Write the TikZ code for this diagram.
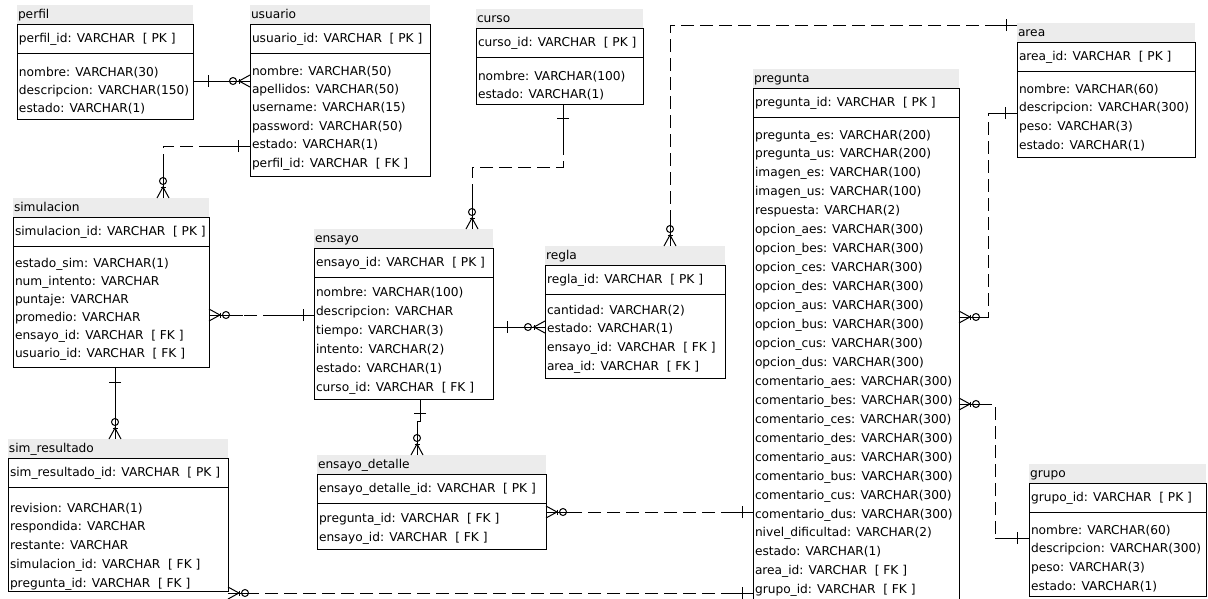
\documentclass[tikz,border=0pt]{standalone}
\usepackage{fontspec}
\setmainfont{DejaVu Sans}
\usetikzlibrary{calc}

\newcommand\erfont{\fontsize{12.2pt}{14pt}\selectfont}
\newcommand\erpk{\ \ [ PK ]}
\newcommand\erfk{\ \ [ FK ]}
\definecolor{bandgray}{RGB}{236,236,236}

% geometry of one table: left/right edge, box top/bottom, first row offset, row pitch
\pgfkeys{/er/.cd,
  xl/.store in=\erxl, xr/.store in=\erxr,
  top/.store in=\ertop, bot/.store in=\erbot,
  first/.store in=\erfirst, pitch/.store in=\erpitch}

\tikzset{
  erband/.style={fill=bandgray, inner sep=0pt, outer sep=0pt, anchor=south west},
  erbox/.style={draw=black, line width=1pt, inner sep=0pt, outer sep=0pt, anchor=north west},
  ertext/.style={anchor=base west, inner sep=0pt, outer sep=0pt, font=\erfont, text=black},
  erlink/.style={line width=1pt, draw=black},
  erdash/.style={erlink, dash pattern=on 13pt off 6pt},
  % "exactly one" bar, #1 = distance from the table edge
  erone/.pic={\draw[erlink] (#1,-6) -- (#1,6);},
  % "zero or many": crow's foot plus circle
  ermany/.pic={
    \draw[erlink] (0,-6) -- (11,0) -- (0,6);
    \draw[erlink] (11,-2.5) -- (11,2.5);
    \draw[erlink] (17,0) circle (3.5);
  },
}

% #1 name, #2 geometry keys, #3 title, #4 key row, #5 attribute rows
\newcommand\ertable[5]{%
  \pgfkeys{/er/.cd, first=46.5, pitch=18.8, #2}%
  \node[erband, minimum width={(\erxr-\erxl)*1pt}, minimum height=19pt] (#1-band) at (\erxl,\ertop) {};
  \node[ertext] (#1-title) at (\erxl+1,\ertop-6) {#3};
  \node[erbox, minimum width={(\erxr-\erxl)*1pt}, minimum height={(\erbot-\ertop)*1pt}] (#1) at (\erxl,\ertop) {};
  \draw[erlink] ($(#1.north west)+(0,29)$) -- ($(#1.north east)+(0,29)$);
  \node[ertext] (#1-pk) at (\erxl+2,\ertop+18.5) {#4};
  \foreach \rowtext [count=\i from 0] in {#5} {
    \node[ertext] (#1-r\i) at (\erxl+2,\ertop+\erfirst+4+\i*\erpitch) {\rowtext};
  }%
}

\begin{document}
\begin{tikzpicture}[x=1pt,y=-1pt]
\useasboundingbox (0,0) rectangle (1208,598);
\fill[white] (0,0) rectangle (1208,598);
\clip (0,0) rectangle (1208,598);

% ---------------- tables ----------------
\ertable{perfil}{xl=17,xr=193,top=24,bot=119,first=48,pitch=18}{perfil}
  {perfil\_id: VARCHAR\erpk}
  {nombre: VARCHAR(30), descripcion: VARCHAR(150), estado: VARCHAR(1)}

\ertable{usuario}{xl=250,xr=430,top=24,bot=176,first=47,pitch=18.4}{usuario}
  {usuario\_id: VARCHAR\erpk}
  {nombre: VARCHAR(50), apellidos: VARCHAR(50), username: VARCHAR(15),
   password: VARCHAR(50), estado: VARCHAR(1), perfil\_id: VARCHAR\erfk}

\ertable{curso}{xl=476,xr=643,top=28,bot=104,first=48,pitch=18.5}{curso}
  {curso\_id: VARCHAR\erpk}
  {nombre: VARCHAR(100), estado: VARCHAR(1)}

\ertable{simulacion}{xl=13,xr=209,top=217,bot=367,first=46,pitch=18}{simulacion}
  {simulacion\_id: VARCHAR\erpk}
  {estado\_sim: VARCHAR(1), num\_intento: VARCHAR, puntaje: VARCHAR,
   promedio: VARCHAR, ensayo\_id: VARCHAR\erfk, usuario\_id: VARCHAR\erfk}

\ertable{ensayo}{xl=314,xr=493,top=248,bot=399,first=44.5,pitch=19}{ensayo}
  {ensayo\_id: VARCHAR\erpk}
  {nombre: VARCHAR(100), descripcion: VARCHAR, tiempo: VARCHAR(3),
   intento: VARCHAR(2), estado: VARCHAR(1), curso\_id: VARCHAR\erfk}

\ertable{regla}{xl=545,xr=725,top=265,bot=378,first=45,pitch=18.9}{regla}
  {regla\_id: VARCHAR\erpk}
  {cantidad: VARCHAR(2), estado: VARCHAR(1), ensayo\_id: VARCHAR\erfk, area\_id: VARCHAR\erfk}

\ertable{ensayodetalle}{xl=317,xr=546,top=474,bot=549,first=44,pitch=19}{ensayo\_detalle}
  {ensayo\_detalle\_id: VARCHAR\erpk}
  {pregunta\_id: VARCHAR\erfk, ensayo\_id: VARCHAR\erfk}

\ertable{simresultado}{xl=8,xr=228,top=458,bot=591,first=50,pitch=18.8}{sim\_resultado}
  {sim\_resultado\_id: VARCHAR\erpk}
  {revision: VARCHAR(1), respondida: VARCHAR, restante: VARCHAR,
   simulacion\_id: VARCHAR\erfk, pregunta\_id: VARCHAR\erfk}

\ertable{pregunta}{xl=753,xr=959,top=88,bot=606,first=47,pitch=18.95}{pregunta}
  {pregunta\_id: VARCHAR\erpk}
  {pregunta\_es: VARCHAR(200), pregunta\_us: VARCHAR(200), imagen\_es: VARCHAR(100),
   imagen\_us: VARCHAR(100), respuesta: VARCHAR(2),
   opcion\_aes: VARCHAR(300), opcion\_bes: VARCHAR(300), opcion\_ces: VARCHAR(300),
   opcion\_des: VARCHAR(300), opcion\_aus: VARCHAR(300), opcion\_bus: VARCHAR(300),
   opcion\_cus: VARCHAR(300), opcion\_dus: VARCHAR(300),
   comentario\_aes: VARCHAR(300), comentario\_bes: VARCHAR(300), comentario\_ces: VARCHAR(300),
   comentario\_des: VARCHAR(300), comentario\_aus: VARCHAR(300), comentario\_bus: VARCHAR(300),
   comentario\_cus: VARCHAR(300), comentario\_dus: VARCHAR(300),
   nivel\_dificultad: VARCHAR(2), estado: VARCHAR(1), area\_id: VARCHAR\erfk, grupo\_id: VARCHAR\erfk}

\ertable{area}{xl=1017,xr=1195,top=42,bot=157,first=47,pitch=18.9}{area}
  {area\_id: VARCHAR\erpk}
  {nombre: VARCHAR(60), descripcion: VARCHAR(300), peso: VARCHAR(3), estado: VARCHAR(1)}

\ertable{grupo}{xl=1029,xr=1206,top=483,bot=596,first=47,pitch=18.8}{grupo}
  {grupo\_id: VARCHAR\erpk}
  {nombre: VARCHAR(60), descripcion: VARCHAR(300), peso: VARCHAR(3), estado: VARCHAR(1)}

% ---------------- relationship end points ----------------
\coordinate (c1a) at ($(perfil.north east)+(0,57)$);
\coordinate (c1b) at (c1a -| usuario.west);
\coordinate (c2a) at ($(usuario.north west)+(0,122)$);
\coordinate (c2b) at ($(simulacion-band.north west)+(150,0)$);
\coordinate (c3a) at ($(curso.south west)+(87,0)$);
\coordinate (c3m) at ($(c3a)+(0,63)$);
\coordinate (c3b) at ($(ensayo-band.north west)+(158,0)$);
\coordinate (c4a) at ($(ensayo.north west)+(0,67)$);
\coordinate (c4b) at (c4a -| simulacion.east);
\coordinate (c5a) at ($(ensayo.north east)+(0,79)$);
\coordinate (c5b) at (c5a -| regla.west);
\coordinate (c6a) at ($(simulacion.south west)+(102,0)$);
\coordinate (c6b) at (c6a |- simresultado-band.north);
\coordinate (c7a) at ($(ensayo.south west)+(106,0)$);
\coordinate (c7b) at ($(ensayodetalle-band.north west)+(100,0)$);
\coordinate (c8a) at ($(pregunta.north west)+(0,424)$);
\coordinate (c8b) at (c8a -| ensayodetalle.east);
\coordinate (c9a) at ($(pregunta.north west)+(0,505)$);
\coordinate (c9b) at (c9a -| simresultado.east);
\coordinate (c10a) at ($(area-band.north west)+(0,2)$);
\coordinate (c10b) at ($(regla-band.north west)+(125,0)$);
\coordinate (c11a) at ($(area.north west)+(0,71)$);
\coordinate (c11m) at ($(c11a)+(-29,0)$);
\coordinate (c11b) at ($(pregunta.north east)+(0,229)$);
\coordinate (c12a) at ($(grupo.north west)+(0,55)$);
\coordinate (c12m) at ($(c12a)+(-34,0)$);
\coordinate (c12b) at ($(pregunta.north east)+(0,316)$);

% ---------------- relationship lines ----------------
% perfil -- usuario
\draw[erlink] (c1a) -- (c1b);
% usuario -- simulacion
\draw[erdash] (c2a) -- (c2a -| c2b) -- (c2b);
\draw[erlink] (c2a) -- ++(-45,0);
\draw[erlink] (c2b) -- ++(0,-38);
% curso -- ensayo
\draw[erdash] (c3a) -- (c3m) -- (c3m -| c3b) -- (c3b);
\draw[erlink] (c3a) -- ++(0,50);
\draw[erlink] (c3b) -- ++(0,-34);
% ensayo -- simulacion
\draw[erdash] (c4a) -- (c4b);
\draw[erlink] (c4a) -- ++(-44,0);
\draw[erlink] (c4b) -- ++(34,0);
% ensayo -- regla
\draw[erlink] (c5a) -- (c5b);
% simulacion -- sim_resultado
\draw[erlink] (c6a) -- (c6b);
% ensayo -- ensayo_detalle
\draw[erlink] (c7a) -- ++(0,22) -| (c7b);
% pregunta -- ensayo_detalle
\draw[erdash] (c8a) -- (c8b);
\draw[erlink] (c8a) -- ++(-32,0);
\draw[erlink] (c8b) -- ++(28,0);
% pregunta -- sim_resultado
\draw[erdash] (c9a) -- (c9b);
\draw[erlink] (c9a) -- ++(-32,0);
\draw[erlink] (c9b) -- ++(28,0);
% area -- regla
\draw[erdash] (c10a) -| (c10b);
\draw[erlink] (c10a) -- ++(-29,0);
\draw[erlink] (c10b) -- ++(0,-25);
% area -- pregunta
\draw[erdash] (c11a) -- (c11m) -- (c11m |- c11b) -- (c11b);
\draw[erlink] (c11a) -- (c11m);
\draw[erlink] (c11b) -- (c11m |- c11b);
% grupo -- pregunta
\draw[erdash] (c12a) -- (c12m) -- (c12m |- c12b) -- (c12b);
\draw[erlink] (c12a) -- (c12m);
\draw[erlink] (c12b) -- ++(28,0);

% ---------------- cardinality marks ----------------
\pic at (c1a) {erone=15};              \pic[rotate=180] at (c1b) {ermany};
\pic[rotate=180] at (c2a) {erone=12};  \pic[rotate=90] at (c2b) {ermany};
\pic[rotate=-90] at (c3a) {erone=14};  \pic[rotate=90] at (c3b) {ermany};
\pic[rotate=180] at (c4a) {erone=11};  \pic at (c4b) {ermany};
\pic at (c5a) {erone=14};              \pic[rotate=180] at (c5b) {ermany};
\pic[rotate=-90] at (c6a) {erone=15};  \pic[rotate=90] at (c6b) {ermany};
\pic[rotate=-90] at (c7a) {erone=14};  \pic[rotate=90] at (c7b) {ermany};
\pic[rotate=180] at (c8a) {erone=11};  \pic at (c8b) {ermany};
\pic[rotate=180] at (c9a) {erone=11};  \pic at (c9b) {ermany};
\pic[rotate=180] at (c10a) {erone=11}; \pic[rotate=90] at (c10b) {ermany};
\pic[rotate=180] at (c11a) {erone=12}; \pic at (c11b) {ermany};
\pic[rotate=180] at (c12a) {erone=12}; \pic at (c12b) {ermany};
\end{tikzpicture}
\end{document}
